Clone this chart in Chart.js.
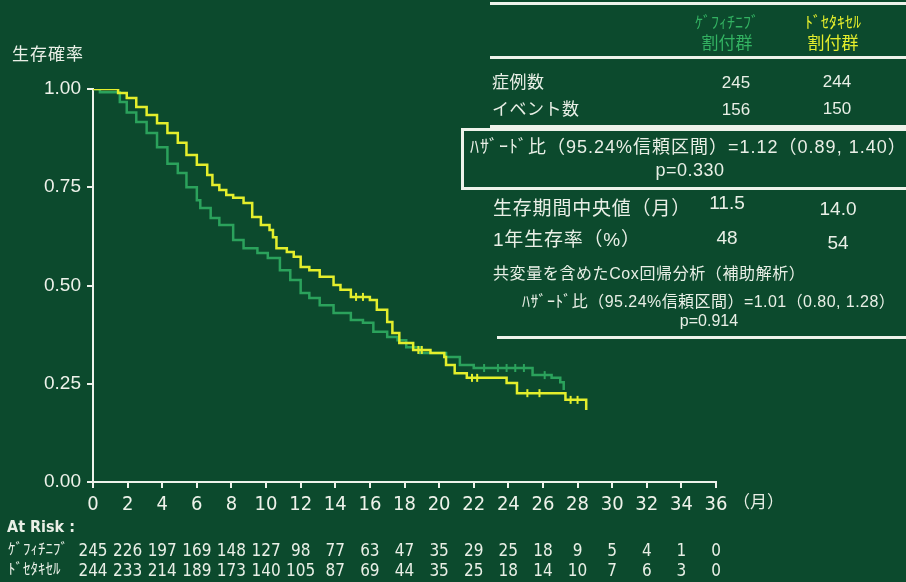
<!DOCTYPE html>
<html>
<head>
<meta charset="utf-8">
<script src="https://cdn.jsdelivr.net/npm/chart.js@4"></script>
<style>
  body { margin: 0; background: #0c4a2d; }
  #wrap { position: relative; width: 906px; height: 582px; overflow: hidden; background: #0c4a2d;
          font-family: "Liberation Sans", "Noto Sans CJK JP", sans-serif; color: #e9efe6; }
  #c { position: absolute; left: 0; top: 0; }
  .t { position: absolute; white-space: nowrap; line-height: 1; }
  .c { transform: translateX(-50%); }
  .hr { position: absolute; background: #eef2ea; }
  .nar { font-family: "Liberation Sans Narrow", "DejaVu Sans Condensed", "Noto Sans CJK JP", sans-serif; }
  .g { color: #33b262; }
  .yl { color: #e4ee2c; }
  #box { position: absolute; left: 461px; top: 128px; width: 460px; height: 56px; border: 3px solid #eef2ea; }
</style>
</head>
<body>
<div id="wrap">
  <canvas id="c" width="906" height="582"></canvas>

  <div class="t" style="left:12px; top:46px; font-size:17px; letter-spacing:1px;">生存確率</div>

  <!-- tabella a destra -->
  <div class="hr" style="left:490px; top:2px; width:416px; height:3px;"></div>
  <div class="t c g" style="left:727px; top:13px; font-size:16px; font-family:'Noto Sans CJK JP', sans-serif;">ｹﾞﾌｨﾁﾆﾌﾞ</div>
  <div class="t c g" style="left:727px; top:35px; font-size:17px;">割付群</div>
  <div class="t c yl" style="left:833px; top:13px; font-size:16px; font-family:'Noto Sans CJK JP', sans-serif;">ﾄﾞｾﾀｷｾﾙ</div>
  <div class="t c yl" style="left:833px; top:35px; font-size:17px;">割付群</div>
  <div class="hr" style="left:490px; top:56px; width:416px; height:3px;"></div>

  <div class="t" style="left:492px; top:74px; font-size:17px; letter-spacing:0.5px;">症例数</div>
  <div class="t c" style="left:736px; top:74px; font-size:17px;">245</div>
  <div class="t c" style="left:837px; top:73px; font-size:17px;">244</div>
  <div class="t" style="left:492px; top:101px; font-size:17px; letter-spacing:0.5px;">イベント数</div>
  <div class="t c" style="left:736px; top:101px; font-size:17px;">156</div>
  <div class="t c" style="left:837px; top:100px; font-size:17px;">150</div>
  <div class="hr" style="left:490px; top:125px; width:416px; height:3px;"></div>

  <div id="box"></div>
  <div class="t" style="left:470px; top:138px; font-size:18px; letter-spacing:1px;">ﾊｻﾞｰﾄﾞ比（95.24%信頼区間）=1.12（0.89, 1.40）</div>
  <div class="t c" style="left:690px; top:161px; font-size:18px; letter-spacing:0.5px;">p=0.330</div>

  <div class="t" style="left:493px; top:199px; font-size:19px; letter-spacing:0.8px;">生存期間中央値（月）</div>
  <div class="t c" style="left:727px; top:193px; font-size:19px;">11.5</div>
  <div class="t c" style="left:838px; top:199px; font-size:19px;">14.0</div>
  <div class="t" style="left:493px; top:230px; font-size:19px; letter-spacing:0.8px;">1年生存率（%）</div>
  <div class="t c" style="left:727px; top:228px; font-size:19px;">48</div>
  <div class="t c" style="left:838px; top:233px; font-size:19px;">54</div>

  <div class="t" style="left:493px; top:266px; font-size:16px; letter-spacing:0.6px;">共変量を含めたCox回帰分析（補助解析）</div>
  <div class="t" style="left:522px; top:294px; font-size:16px; letter-spacing:0.45px;">ﾊｻﾞｰﾄﾞ比（95.24%信頼区間）=1.01（0.80, 1.28）</div>
  <div class="t c" style="left:709px; top:313px; font-size:16px;">p=0.914</div>
  <div class="hr" style="left:497px; top:336px; width:409px; height:3px;"></div>

  <!-- asse x: unità -->
  <div class="t" style="left:733px; top:494px; font-size:17px;">（月）</div>

  <!-- at risk -->
  <div class="t nar" style="left:7px; top:519px; font-size:16px; font-weight:bold;">At Risk :</div>
  <div class="t nar" style="left:8px; top:542px; font-size:15px;">ｹﾞﾌｨﾁﾆﾌﾞ</div>
  <div class="t nar" style="left:8px; top:562px; font-size:15px;">ﾄﾞｾﾀｷｾﾙ</div>
</div>

<script>
// Tempi (mesi) e sopravvivenza
const doceTime = [0, 1.45, 1.95, 2.5, 3.1, 3.7, 4.3, 4.9, 5.4, 6.0, 6.6, 6.9, 7.3, 7.7, 8.1, 8.7, 9.2, 9.7, 10.2, 10.4, 10.6, 11.2, 11.6, 12.0, 12.5, 13.1, 13.9, 14.3, 14.9, 16.0, 16.4, 17.0, 17.3, 17.7, 18.5, 19.5, 20.3, 20.4, 20.9, 21.6, 23.9, 24.5, 27.3, 28.5];
const doceSurv = [1.0, 0.99, 0.977, 0.954, 0.934, 0.913, 0.888, 0.863, 0.832, 0.807, 0.781, 0.756, 0.743, 0.730, 0.723, 0.710, 0.674, 0.654, 0.641, 0.623, 0.595, 0.585, 0.573, 0.547, 0.539, 0.522, 0.501, 0.489, 0.471, 0.463, 0.438, 0.407, 0.379, 0.354, 0.336, 0.328, 0.318, 0.298, 0.277, 0.265, 0.252, 0.226, 0.209, 0.183];

const gefiTime = [0, 0.4, 1.55, 1.95, 2.5, 3.1, 3.7, 4.3, 4.9, 5.4, 6.0, 6.2, 6.8, 7.3, 8.1, 8.7, 9.5, 10.1, 10.8, 11.4, 12.0, 12.5, 13.1, 13.9, 14.9, 15.6, 16.2, 17.0, 17.6, 18.1, 18.9, 20.4, 21.2, 22.0, 25.4, 26.5, 27.0, 27.2];
const gefiSurv = [1.0, 0.992, 0.967, 0.94, 0.916, 0.888, 0.852, 0.81, 0.786, 0.75, 0.717, 0.697, 0.672, 0.654, 0.616, 0.595, 0.583, 0.570, 0.539, 0.514, 0.481, 0.468, 0.45, 0.43, 0.412, 0.405, 0.382, 0.369, 0.361, 0.343, 0.328, 0.318, 0.298, 0.29, 0.272, 0.265, 0.254, 0.234];

// Censure (tacche verticali)
const doceCensTime = [15.2, 15.6, 18.8, 19.0, 21.9, 22.2, 25.1, 25.8, 27.6, 28.0];
const doceCensSurv = [0.471, 0.471, 0.336, 0.336, 0.265, 0.265, 0.226, 0.226, 0.209, 0.209];
const gefiCensTime = [22.6, 23.4, 23.9, 24.4, 24.9, 26.1];
const gefiCensSurv = [0.29, 0.29, 0.29, 0.29, 0.29, 0.272];

// Pazienti a rischio
const riskTimes = [0, 2, 4, 6, 8, 10, 12, 14, 16, 18, 20, 22, 24, 26, 28, 30, 32, 34, 36];
const gefiRisk = [245, 226, 197, 169, 148, 127, 98, 77, 63, 47, 35, 29, 25, 18, 9, 5, 4, 1, 0];
const doceRisk = [244, 233, 214, 189, 173, 140, 105, 87, 69, 44, 35, 25, 18, 14, 10, 7, 6, 3, 0];

const YELLOW = '#e4ee2c';
const GREEN = '#2ba25c';
const AXIS = '#eef2ea';

const toPoints = (xs, ys) => xs.map((x, i) => ({ x: x, y: ys[i] }));

const chart = new Chart(document.getElementById('c'), {
    type: 'line',
    data: {
        datasets: [
            { data: toPoints(doceCensTime, doceCensSurv), type: 'scatter', pointStyle: 'line', rotation: 90,
              pointRadius: 4, borderColor: YELLOW, borderWidth: 2, order: 0 },
            { label: 'ﾄﾞｾﾀｷｾﾙ', data: toPoints(doceTime, doceSurv), borderColor: YELLOW, borderWidth: 2.5,
              stepped: 'before', pointRadius: 0, fill: false, order: 1 },
            { data: toPoints(gefiCensTime, gefiCensSurv), type: 'scatter', pointStyle: 'line', rotation: 90,
              pointRadius: 4, borderColor: GREEN, borderWidth: 2, order: 2 },
            { label: 'ｹﾞﾌｨﾁﾆﾌﾞ', data: toPoints(gefiTime, gefiSurv), borderColor: GREEN, borderWidth: 2.5,
              stepped: 'before', pointRadius: 0, fill: false, order: 3 }
        ]
    },
    options: {
        responsive: false,
        animation: false,
        layout: { padding: { left: 0, top: 89, right: 190, bottom: 70 } },
        plugins: { legend: { display: false }, tooltip: { enabled: false } },
        scales: {
            x: {
                type: 'linear', min: 0, max: 36,
                ticks: { stepSize: 2, autoSkip: false, maxRotation: 0, padding: 5, color: AXIS,
                         font: { family: '"Liberation Sans Narrow", "DejaVu Sans Condensed", sans-serif', size: 20 } },
                grid: { drawOnChartArea: false, color: AXIS, lineWidth: 2, tickLength: 6 },
                border: { color: AXIS, width: 2 },
                afterFit: s => { s.height = 30; }
            },
            y: {
                min: 0, max: 1,
                ticks: { stepSize: 0.25, padding: 6, color: AXIS, callback: v => v.toFixed(2),
                         font: { family: '"Liberation Sans", sans-serif', size: 19 } },
                grid: { drawOnChartArea: false, color: AXIS, lineWidth: 2, tickLength: 6 },
                border: { color: AXIS, width: 2 },
                afterFit: s => { s.width = 93; }
            }
        }
    }
});

// Righe "At Risk" allineate alla scala x
const wrap = document.getElementById('wrap');
function addRiskRow(values, top) {
    values.forEach((v, i) => {
        const d = document.createElement('div');
        d.className = 't c nar';
        d.style.left = chart.scales.x.getPixelForValue(riskTimes[i]) + 'px';
        d.style.top = top + 'px';
        d.style.fontSize = '17px';
        d.textContent = v;
        wrap.appendChild(d);
    });
}
addRiskRow(gefiRisk, 542);
addRiskRow(doceRisk, 562);
</script>
</body>
</html>
